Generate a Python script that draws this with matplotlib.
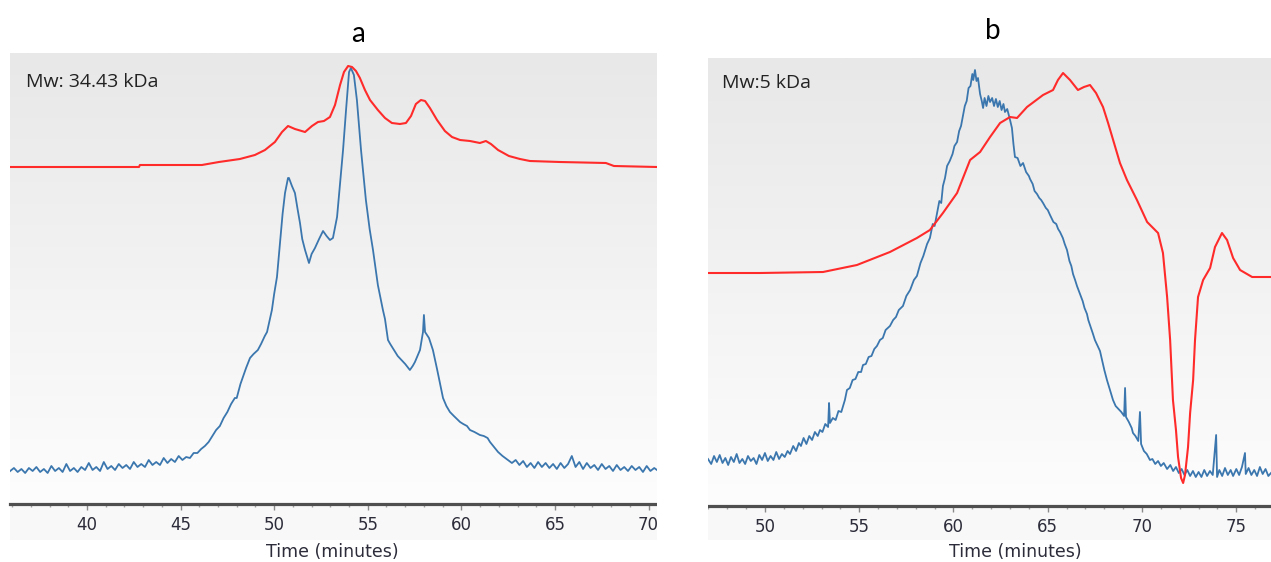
import numpy as np
import matplotlib
matplotlib.use("Agg")
import matplotlib.pyplot as plt
from matplotlib.colors import LinearSegmentedColormap
from matplotlib.patches import Rectangle
from matplotlib.ticker import MultipleLocator

# ---- panel a: Mw 34.43 kDa ----
red_a_t = [35.89, 42.78, 42.83, 46.14, 47.05, 48.17, 48.97, 49.51, 50.04, 50.42, 50.74, 51.11,
           51.65, 52.02, 52.34, 52.66, 52.98, 53.25, 53.52, 53.73, 53.95, 54.16, 54.37, 54.58,
           54.85, 55.12, 55.54, 55.92, 56.29, 56.72, 57.04, 57.31, 57.57, 57.84, 58.06, 58.32,
           58.70, 59.12, 59.50, 59.93, 60.46, 60.99, 61.31, 61.58, 61.96, 62.54, 63.13, 63.66,
           65.27, 67.72, 68.15, 70.45]
red_a_s = [337, 337, 339, 339, 342, 345, 349, 354, 362, 372, 378, 375,
           372, 378, 382, 383, 387, 399, 419, 432, 438, 437, 433, 426,
           414, 404, 394, 386, 381, 380, 381, 388, 400, 404, 403, 396,
           384, 373, 367, 364, 363, 361, 363, 360, 354, 348, 345, 343,
           342, 341, 338, 337]

blue_a_t = [35.9, 36.1, 36.3, 36.5, 36.7, 36.9, 37.1, 37.3, 37.5, 37.7, 37.9, 38.1, 38.3, 38.5,
            38.7, 38.9, 39.1, 39.3, 39.5, 39.7, 39.9, 40.1, 40.3, 40.5, 40.7, 40.9, 41.1, 41.3,
            41.5, 41.7, 41.9, 42.1, 42.3, 42.5, 42.7, 42.9, 43.1, 43.3, 43.5, 43.7, 43.9, 44.1,
            44.3, 44.5, 44.7, 44.9, 45.1, 45.3, 45.5, 45.7, 45.9, 46.1, 46.3, 46.5, 46.7, 46.9,
            47.1, 47.3, 47.5, 47.7, 47.9, 48.0, 48.2, 48.33, 48.5, 48.71, 48.9, 49.13, 49.3,
            49.5, 49.62, 49.88, 50.0, 50.15, 50.31, 50.45, 50.58, 50.74, 50.79, 50.95, 51.11,
            51.25, 51.38, 51.5, 51.65, 51.86, 52.0, 52.18, 52.4, 52.61, 52.8, 52.98, 53.14,
            53.36, 53.52, 53.68, 53.84, 54.0, 54.1, 54.26, 54.42, 54.64, 54.9, 55.1, 55.28,
            55.54, 55.81, 55.92, 56.08, 56.2, 56.4, 56.6, 56.8, 57.0, 57.25, 57.4, 57.52,
            57.79, 57.95, 58.0, 58.06, 58.27, 58.48, 58.7, 59.02, 59.2, 59.39, 59.6, 59.93,
            60.1, 60.3, 60.46, 60.7, 60.99, 61.2, 61.4, 61.53, 61.7, 61.96, 62.2, 62.49, 62.7,
            62.9, 63.1, 63.3, 63.5, 63.7, 63.9, 64.1, 64.3, 64.5, 64.7, 64.9, 65.1, 65.3, 65.5,
            65.7, 65.9, 66.1, 66.3, 66.5, 66.7, 66.9, 67.1, 67.3, 67.5, 67.7, 67.9, 68.1, 68.3,
            68.5, 68.7, 68.9, 69.1, 69.3, 69.5, 69.7, 69.9, 70.1, 70.3, 70.45]
blue_a_s = [33, 36, 32, 35, 31, 36, 33, 37, 32, 35, 31, 38, 33, 36,
            32, 40, 33, 36, 32, 37, 34, 41, 34, 37, 33, 42, 35, 38,
            34, 40, 36, 39, 35, 42, 37, 40, 37, 44, 39, 42, 39, 46,
            41, 45, 42, 48, 44, 47, 46, 51, 51, 55, 58, 62, 68, 74,
            78, 86, 92, 100, 106, 106, 120, 127, 136, 146, 150, 154, 160,
            168, 172, 194, 210, 227, 261, 290, 311, 326, 326, 318, 311,
            295, 281, 265, 254, 241, 250, 256, 265, 273, 268, 264, 266,
            287, 321, 354, 394, 432, 436, 429, 404, 354, 304, 275, 254,
            219, 194, 185, 164, 160, 154, 148, 144, 140, 134, 138, 142,
            154, 172, 189, 172, 166, 154, 135, 106, 98, 92, 88, 82,
            80, 78, 74, 72, 69, 68, 66, 62, 58, 52, 48, 44, 41,
            44, 39, 43, 37, 41, 36, 42, 37, 41, 36, 40, 35, 41, 36,
            40, 48, 37, 42, 35, 41, 36, 39, 34, 40, 35, 38, 33, 39,
            34, 37, 33, 38, 34, 37, 32, 38, 33, 36, 34]

# ---- panel b: Mw 5 kDa ----
red_b_t = [46.98, 49.73, 53.08, 54.88, 56.63, 58.06, 58.75, 59.44, 60.19, 60.88, 61.41, 61.94,
           62.47, 63.00, 63.37, 63.90, 64.75, 65.28, 65.54, 65.81, 66.18, 66.60, 66.92, 67.24,
           67.56, 67.93, 68.20, 68.83, 69.20, 69.73, 70.27, 70.85, 71.11, 71.33, 71.49, 71.59,
           71.64, 71.80, 71.91, 72.07, 72.18, 72.28, 72.44, 72.55, 72.71, 72.81, 72.97, 73.24,
           73.61, 73.87, 74.24, 74.51, 74.83, 75.20, 75.84, 76.84]
red_b_s = [233, 233, 234, 241, 254, 268, 276, 293, 313, 346, 354, 369,
           383, 389, 388, 399, 411, 416, 426, 433, 426, 416, 419, 421,
           413, 399, 383, 343, 326, 306, 284, 273, 253, 209, 166, 126,
           106, 76, 49, 28, 23, 31, 59, 93, 126, 166, 209, 226,
           238, 259, 273, 266, 248, 236, 229, 229]

blue_b_t = [46.98, 47.15, 47.3, 47.45, 47.6, 47.75, 47.9, 48.05, 48.2, 48.35, 48.5, 48.65, 48.8,
            48.95, 49.1, 49.25, 49.4, 49.55, 49.7, 49.85, 50.0, 50.15, 50.3, 50.45, 50.6, 50.75,
            50.9, 51.05, 51.2, 51.33, 51.5, 51.65, 51.8, 51.91, 52.05, 52.2, 52.35, 52.5, 52.65,
            52.8, 52.92, 53.05, 53.2, 53.35, 53.4, 53.45, 53.6, 53.75, 53.9, 54.05, 54.24, 54.35,
            54.5, 54.65, 54.8, 54.95, 55.1, 55.2, 55.35, 55.5, 55.65, 55.8, 55.94, 56.1, 56.25,
            56.4, 56.63, 56.8, 56.95, 57.1, 57.32, 57.5, 57.7, 57.9, 58.06, 58.25, 58.4, 58.6,
            58.75, 58.9, 59.0, 59.12, 59.25, 59.35, 59.44, 59.55, 59.66, 59.8, 59.95, 60.05,
            60.19, 60.3, 60.4, 60.5, 60.6, 60.7, 60.8, 60.9, 61.0, 61.05, 61.14, 61.22, 61.3,
            61.41, 61.5, 61.57, 61.65, 61.75, 61.85, 61.94, 62.05, 62.15, 62.25, 62.35, 62.45,
            62.55, 62.65, 62.73, 62.85, 63.0, 63.1, 63.18, 63.26, 63.4, 63.55, 63.69, 63.85,
            64.0, 64.06, 64.2, 64.3, 64.43, 64.55, 64.65, 64.75, 64.9, 65.0, 65.12, 65.3, 65.45,
            65.55, 65.65, 65.8, 65.9, 66.02, 66.15, 66.25, 66.34, 66.45, 66.55, 66.71, 66.85,
            66.95, 67.08, 67.15, 67.24, 67.4, 67.5, 67.65, 67.77, 67.9, 68.0, 68.14, 68.3,
            68.46, 68.6, 68.75, 68.9, 69.05, 69.1, 69.15, 69.3, 69.45, 69.52, 69.65, 69.8,
            69.89, 69.95, 70.1, 70.25, 70.42, 70.55, 70.7, 70.85, 71.0, 71.15, 71.33, 71.5,
            71.65, 71.8, 71.95, 72.1, 72.25, 72.4, 72.55, 72.7, 72.85, 73.0, 73.15, 73.3, 73.45,
            73.6, 73.75, 73.93, 73.98, 74.1, 74.25, 74.4, 74.55, 74.7, 74.83, 75.0, 75.15, 75.3,
            75.46, 75.5, 75.65, 75.8, 75.95, 76.1, 76.25, 76.4, 76.55, 76.7, 76.84]
blue_b_s = [47, 42, 50, 44, 51, 43, 48, 41, 49, 44, 52, 43, 47,
            42, 50, 45, 48, 42, 51, 46, 53, 45, 50, 46, 54, 47,
            52, 49, 55, 52, 60, 55, 63, 60, 68, 62, 70, 66, 74,
            70, 76, 74, 82, 79, 103, 83, 88, 86, 95, 94, 106, 116,
            118, 126, 127, 134, 134, 141, 142, 149, 150, 157, 160, 166, 168,
            176, 180, 186, 189, 196, 200, 210, 216, 226, 230, 243, 250, 262,
            268, 282, 280, 292, 305, 303, 320, 328, 340, 345, 352, 360,
            364, 375, 380, 390, 400, 405, 418, 420, 432, 426, 436, 425, 428,
            412, 405, 398, 408, 400, 410, 404, 408, 400, 407, 399, 405,
            396, 402, 394, 397, 386, 378, 362, 349, 348, 340, 343, 334,
            330, 327, 322, 315, 312, 308, 306, 303, 298, 296, 291, 284, 282,
            277, 274, 268, 262, 256, 245, 240, 232, 226, 220, 212, 205,
            198, 192, 186, 181, 172, 166, 160, 155, 144, 136, 126, 116,
            106, 100, 97, 94, 90, 118, 89, 84, 78, 73, 70, 65,
            94, 62, 55, 52, 46, 47, 42, 45, 40, 43, 37, 41,
            35, 39, 33, 37, 31, 36, 30, 35, 29, 34, 29, 36, 30,
            35, 31, 71, 29, 36, 30, 38, 31, 36, 30, 37, 31, 39,
            53, 32, 38, 31, 36, 30, 39, 32, 37, 30, 33]

W, H = 1271, 562
fig = plt.figure(figsize=(W / 100, H / 100), dpi=100)
fig.patch.set_facecolor("white")

grad = LinearSegmentedColormap.from_list("bg", ["#e8e8e8", "#fdfdfd"])
blue = "#3b77ae"
red = "#ff2b2b"


def px_box(x0, x1, ytop, ybot):
    return [x0 / W, 1 - ybot / H, (x1 - x0) / W, (ybot - ytop) / H]


def panel(box, red_t, red_s, blue_t, blue_s, xlim, ylim, note, note_y):
    ax = fig.add_axes(box)
    ax.imshow(np.linspace(0, 1, 256).reshape(-1, 1), cmap=grad, aspect="auto",
              extent=[0, 1, 0, 1], transform=ax.transAxes, zorder=0)
    ax.plot(blue_t, blue_s, color=blue, lw=1.3, zorder=2)
    ax.plot(red_t, red_s, color=red, lw=1.5, zorder=3)
    ax.set_xlim(*xlim)
    ax.set_ylim(*ylim)
    for side in ["top", "left", "right"]:
        ax.spines[side].set_visible(False)
    ax.spines["bottom"].set_color("#4f4f4f")
    ax.spines["bottom"].set_linewidth(2.3)
    ax.set_yticks([])
    ax.xaxis.set_major_locator(MultipleLocator(5))
    ax.xaxis.set_minor_locator(MultipleLocator(1))
    ax.tick_params(axis="x", which="major", length=4.5, width=1, color="#8a8a8a",
                   labelsize=12, labelcolor="#2c2c3a", pad=4)
    ax.tick_params(axis="x", which="minor", length=2.5, width=1, color="#a0a0a0")
    ax.text(0.024, note_y, note, transform=ax.transAxes,
            fontsize=14, family="Open Sans", color="#222222", va="center", ha="left")
    return ax


# tick-label strip under each axis line
fig.add_artist(Rectangle((10 / W, 1 - 540 / H), 647 / W, 34 / H, transform=fig.transFigure,
                         facecolor="#f8f8f8", edgecolor="none", zorder=-1))
fig.add_artist(Rectangle((708 / W, 1 - 540 / H), 563 / W, 34 / H, transform=fig.transFigure,
                         facecolor="#f8f8f8", edgecolor="none", zorder=-1))

panel(px_box(10, 657, 53, 504), red_a_t, red_a_s, blue_a_t, blue_a_s,
      (35.89, 70.45), (0, 451), "Mw: 34.43 kDa", 0.935)
panel(px_box(708, 1271, 58, 506), red_b_t, red_b_s, blue_b_t, blue_b_s,
      (46.98, 76.84), (0, 448), "Mw:5 kDa", 0.945)

# white gap between panels cuts the last tick label of panel a
fig.add_artist(Rectangle((657 / W, 0), 51 / W, 80 / H, transform=fig.transFigure,
                         facecolor="white", edgecolor="none", zorder=10))

fig.text(358 / W, 1 - 42 / H, "a", fontsize=20, family="Lato", ha="center", va="baseline")
fig.text(993 / W, 1 - 39 / H, "b", fontsize=20, family="Lato", ha="center", va="baseline")
fig.text(332 / W, 1 - 552 / H, "Time (minutes)", fontsize=12.5, color="#2c2c3a",
         ha="center", va="center")
fig.text(1015 / W, 1 - 552 / H, "Time (minutes)", fontsize=12.5, color="#2c2c3a",
         ha="center", va="center")

fig.savefig("out.png", dpi=100)
